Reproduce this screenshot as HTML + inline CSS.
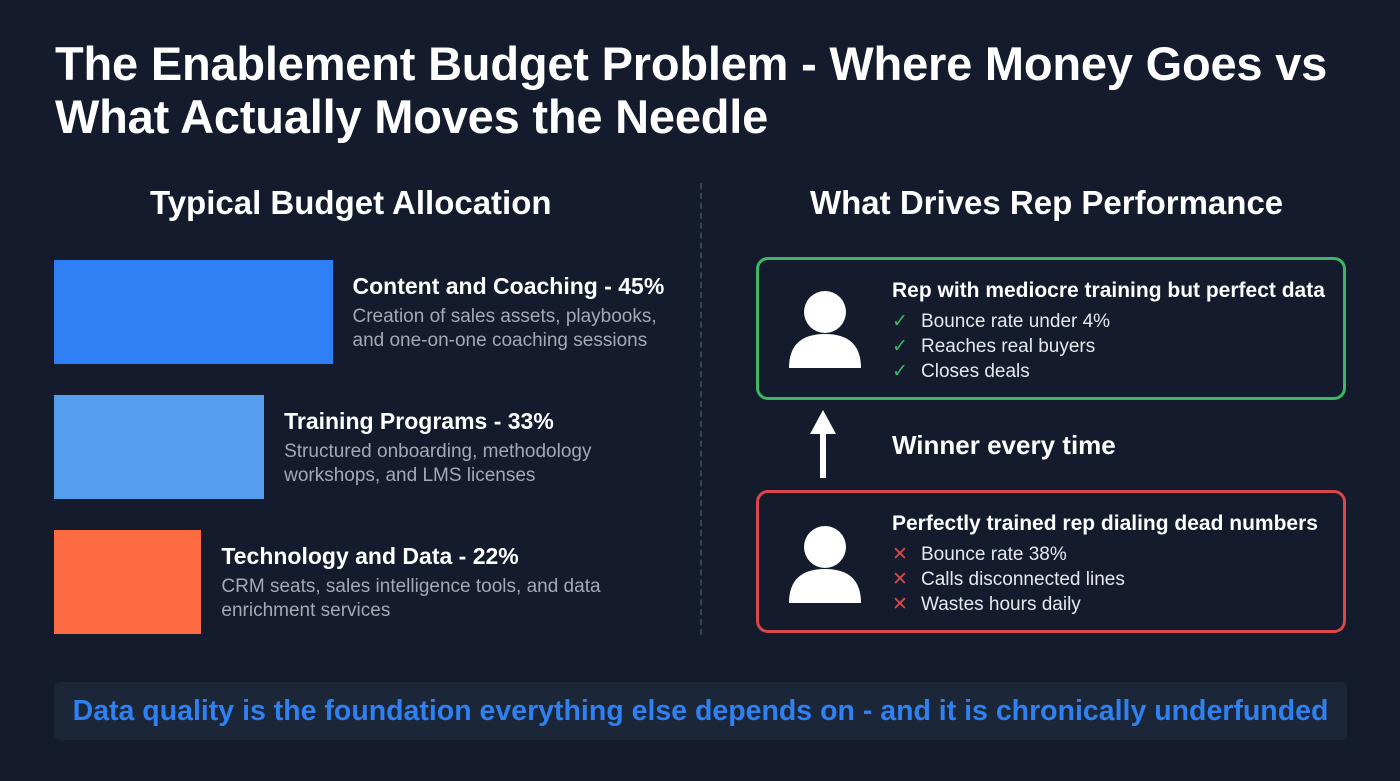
<!DOCTYPE html>
<html><head><meta charset="utf-8"><style>
body{margin:0;width:1400px;height:781px;background:#131b2c;font-family:"Liberation Sans",sans-serif;color:#fff;position:relative;overflow:hidden}
.a{position:absolute}
h1{position:absolute;left:55px;top:37px;margin:0;font-size:47px;line-height:53px;font-weight:bold;letter-spacing:-0.2px}
.st{font-size:33px;font-weight:bold;top:184px}
.bt{font-size:23px;font-weight:bold}
.bd{font-size:19px;color:#a3a9b5;line-height:24px}
.card{position:absolute;left:756px;width:590px;border:3px solid;border-radius:12px;box-sizing:border-box}
.ct{font-size:21px;font-weight:bold;position:absolute;left:133px}
.li{font-size:19px;color:#e6e8ec;position:absolute;left:133px;line-height:25px}
.li span{display:inline-block;width:29px}
</style></head><body>
<h1>The Enablement Budget Problem - Where Money Goes vs<br>What Actually Moves the Needle</h1>
<div class="a st" style="left:150px">Typical Budget Allocation</div>
<div class="a st" style="left:810px">What Drives Rep Performance</div>
<div class="a" style="left:700px;top:183px;height:452px;border-left:2px dashed #3a4356"></div>
<div id="bars"></div>

<div class="card" style="top:257px;height:143px;border-color:#3cb665">
 <svg class="a" style="left:30px;top:30px" width="72" height="82"><circle cx="36" cy="22" r="21" fill="#fff"/><path d="M0 78 Q0 44 36 44 Q72 44 72 78 Z" fill="#fff"/></svg>
 <div class="ct" style="top:19px">Rep with mediocre training but perfect data</div>
 <div class="li" style="top:49px"><span style="color:#3cb665">✓</span>Bounce rate under 4%</div>
 <div class="li" style="top:74px"><span style="color:#3cb665">✓</span>Reaches real buyers</div>
 <div class="li" style="top:99px"><span style="color:#3cb665">✓</span>Closes deals</div>
</div>
<svg class="a" style="left:810px;top:410px" width="26" height="68"><polygon points="13,0 26,24 0,24" fill="#fff"/><rect x="10" y="22" width="6" height="46" fill="#fff"/></svg>
<div class="a" style="left:892px;top:430px;font-size:26px;font-weight:bold">Winner every time</div>
<div class="card" style="top:490px;height:143px;border-color:#d9474b">
 <svg class="a" style="left:30px;top:32px" width="72" height="82"><circle cx="36" cy="22" r="21" fill="#fff"/><path d="M0 78 Q0 44 36 44 Q72 44 72 78 Z" fill="#fff"/></svg>
 <div class="ct" style="top:19px">Perfectly trained rep dialing dead numbers</div>
 <div class="li" style="top:49px"><span style="color:#d9474b">✕</span>Bounce rate 38%</div>
 <div class="li" style="top:74px"><span style="color:#d9474b">✕</span>Calls disconnected lines</div>
 <div class="li" style="top:99px"><span style="color:#d9474b">✕</span>Wastes hours daily</div>
</div>
<div class="a" style="left:54px;top:682px;width:1293px;height:58px;background:#1c2639;border-radius:6px;text-align:center;line-height:58px;font-size:28.5px;font-weight:bold;color:#2f80f0;white-space:nowrap">Data quality is the foundation everything else depends on - and it is chronically underfunded</div>
<script>
const categories=["Content and Coaching","Training Programs","Technology and Data"];
const values=[45,33,22];
const descs=[["Creation of sales assets, playbooks,","and one-on-one coaching sessions"],["Structured onboarding, methodology","workshops, and LMS licenses"],["CRM seats, sales intelligence tools, and data","enrichment services"]];
const colors=["#2f80f5","#559ded","#fd6b43"];
const x0=54,base=22,scale=5.7,top0=260,step=135,h=104;
const c=document.getElementById('bars');
values.forEach((v,i)=>{
 const w=base+v*scale,y=top0+i*step;
 const b=document.createElement('div');
 b.className='a';b.style.cssText=`left:${x0}px;top:${y}px;width:${w}px;height:${h}px;background:${colors[i]}`;
 
 
 c.appendChild(b);
 const t=document.createElement('div');
 t.className='a bt';t.style.cssText=`left:${x0+w+20}px;top:${y+13}px`;
 t.textContent=categories[i]+' - '+v+'%';
 
 
 c.appendChild(t);
 const d=document.createElement('div');
 d.className='a bd';d.style.cssText=`left:${x0+w+20}px;top:${y+45}px`;
 d.innerHTML=descs[i].join('<br>');
 
 
 c.appendChild(d);
});
</script>
</body></html>
